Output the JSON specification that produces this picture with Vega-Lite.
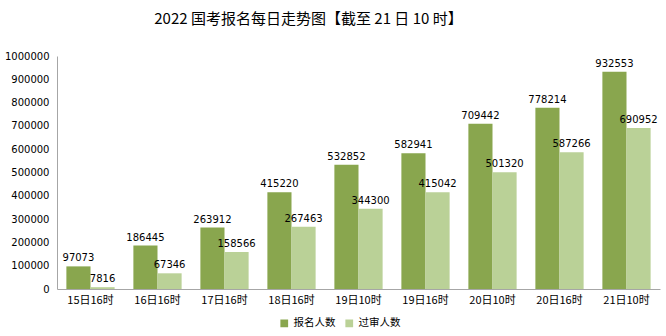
{
  "$schema": "https://vega.github.io/schema/vega-lite/v6.json",
  "autosize": {"type": "fit", "contains": "padding"},
  "width": 666,
  "height": 336,
  "padding": {"left": 4, "top": 12, "right": 6, "bottom": 31},
  "background": "white",
  "title": {"text": "2022 国考报名每日走势图【截至 21 日 10 时】", "fontSize": 15, "fontWeight": "normal", "color": "#000000", "font": "Noto Sans CJK SC", "anchor": "middle", "dx": -50, "offset": 24},
  "config": {"view": {"stroke": null}, "font": "Noto Sans CJK SC"},
  "data": {"values": [
    {"t": "15日16时", "s": "报名人数", "v": 97073},
    {"t": "15日16时", "s": "过审人数", "v": 7816},
    {"t": "16日16时", "s": "报名人数", "v": 186445},
    {"t": "16日16时", "s": "过审人数", "v": 67346},
    {"t": "17日16时", "s": "报名人数", "v": 263912},
    {"t": "17日16时", "s": "过审人数", "v": 158566},
    {"t": "18日16时", "s": "报名人数", "v": 415220},
    {"t": "18日16时", "s": "过审人数", "v": 267463},
    {"t": "19日10时", "s": "报名人数", "v": 532852},
    {"t": "19日10时", "s": "过审人数", "v": 344300},
    {"t": "19日16时", "s": "报名人数", "v": 582941},
    {"t": "19日16时", "s": "过审人数", "v": 415042},
    {"t": "20日10时", "s": "报名人数", "v": 709442},
    {"t": "20日10时", "s": "过审人数", "v": 501320},
    {"t": "20日16时", "s": "报名人数", "v": 778214},
    {"t": "20日16时", "s": "过审人数", "v": 587266},
    {"t": "21日10时", "s": "报名人数", "v": 932553},
    {"t": "21日10时", "s": "过审人数", "v": 690952}
  ]},
  "encoding": {
    "x": {"field": "t", "type": "nominal", "sort": null, "title": null,
      "scale": {"paddingInner": 0.28, "paddingOuter": 0.14},
      "axis": {"labelAngle": 0, "ticks": false, "domainColor": "#a6a6a6", "labelColor": "#000000", "labelFontSize": 11, "labelPadding": 5, "labelFont": "Noto Sans CJK SC"}},
    "xOffset": {"field": "s", "type": "nominal", "sort": ["报名人数", "过审人数"]},
    "y": {"field": "v", "type": "quantitative", "title": null,
      "scale": {"domain": [0, 1000000], "nice": false},
      "axis": {"values": [0,100000,200000,300000,400000,500000,600000,700000,800000,900000,1000000], "grid": false, "ticks": false, "domainColor": "#a6a6a6", "labelColor": "#000000", "labelFontSize": 10, "labelFont": "DejaVu Sans", "labelPadding": 8, "format": "d"}}
  },
  "layer": [
    {"mark": {"type": "bar"},
     "encoding": {"color": {"field": "s", "type": "nominal", "sort": ["报名人数", "过审人数"],
       "scale": {"domain": ["报名人数", "过审人数"], "range": ["#89a64e", "#bad197"]},
       "legend": {"orient": "none", "legendX": 222, "legendY": 262, "direction": "horizontal", "title": null, "symbolType": "square", "symbolSize": 60, "labelFontSize": 10.5, "labelColor": "#000000", "columnPadding": 8, "symbolStrokeWidth": 0, "labelFont": "Noto Sans CJK SC"}}}},
    {"mark": {"type": "text", "dy": -8, "fontSize": 10, "color": "#000000", "font": "DejaVu Sans"},
     "encoding": {"text": {"field": "v", "type": "quantitative", "format": "d"}}}
  ]
}
